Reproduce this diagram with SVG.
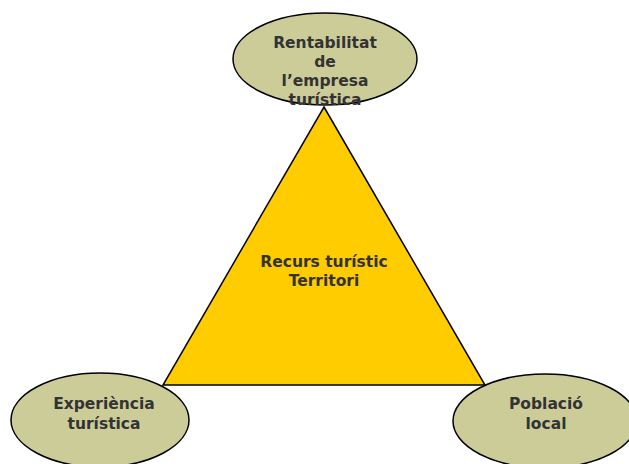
<svg xmlns="http://www.w3.org/2000/svg" width="629" height="464" viewBox="0 0 629 464">
<style>
.el{fill:#cccc99;stroke:#000;stroke-width:1.5}
.tri{fill:#ffcc00;stroke:#000;stroke-width:1.5;stroke-linejoin:miter}
.t{font-family:"DejaVu Sans",Verdana,sans-serif;font-weight:bold;font-size:15.5px;fill:#333;text-anchor:middle}
</style>
<rect width="629" height="464" fill="#fff"/>
<g id="connectors"></g>
<g id="rentabilitat">
<ellipse class="el" cx="325" cy="59" rx="92" ry="46"/>
</g>
<g id="experiencia">
<ellipse class="el" cx="100" cy="420" rx="89" ry="47"/>
<text class="t" x="104" y="409">Experiència</text>
<text class="t" x="104" y="429">turística</text>
</g>
<g id="poblacio">
<ellipse class="el" cx="545" cy="421" rx="92" ry="47"/>
<text class="t" x="546" y="409">Població</text>
<text class="t" x="546" y="429">local</text>
</g>
<g id="recurs">
<polygon class="tri" points="324,107 485,385 163,385"/>
<text class="t" x="324" y="267">Recurs turístic</text>
<text class="t" x="324" y="286">Territori</text>
</g>
<g id="rentabilitat-text">
<text class="t" x="325" y="48">Rentabilitat</text>
<text class="t" x="325" y="67">de</text>
<text class="t" x="325" y="86">l’empresa</text>
<text class="t" x="325" y="105">turística</text>
</g>
</svg>
